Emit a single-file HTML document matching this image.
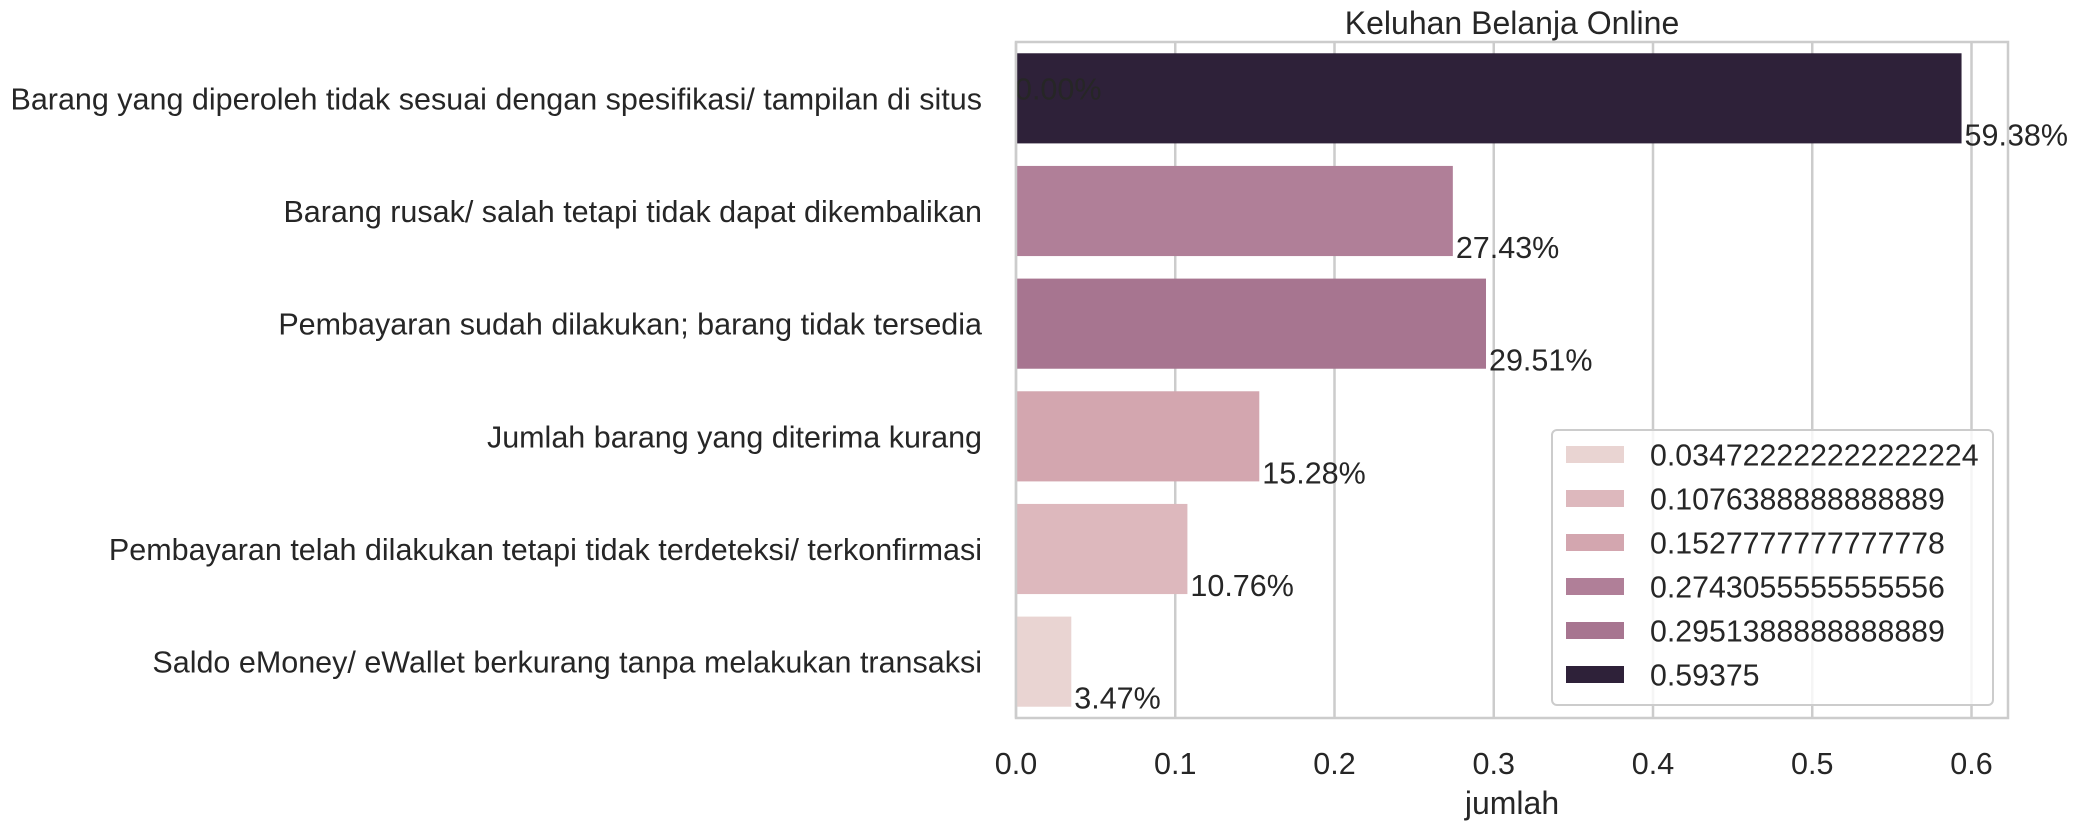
<!DOCTYPE html>
<html><head><meta charset="utf-8"><style>
html,body{margin:0;padding:0;background:#fff;}
svg{display:block;font-family:"Liberation Sans",Arial,sans-serif;}
</style></head><body>
<svg id="chart" width="2088" height="827" viewBox="0 0 2088 827"></svg>
<script>
const categories = [
  "Barang yang diperoleh tidak sesuai dengan spesifikasi/ tampilan di situs",
  "Barang rusak/ salah tetapi tidak dapat dikembalikan",
  "Pembayaran sudah dilakukan; barang tidak tersedia",
  "Jumlah barang yang diterima kurang",
  "Pembayaran telah dilakukan tetapi tidak terdeteksi/ terkonfirmasi",
  "Saldo eMoney/ eWallet berkurang tanpa melakukan transaksi"
];
const values = [0.59375, 0.2743055555555556, 0.2951388888888889, 0.1527777777777778, 0.1076388888888889, 0.034722222222222224];
const valueLabels = ["59.38%", "27.43%", "29.51%", "15.28%", "10.76%", "3.47%"];
const legendLabels = ["0.034722222222222224", "0.1076388888888889", "0.1527777777777778", "0.2743055555555556", "0.2951388888888889", "0.59375"];
const legendValues = [0.034722222222222224, 0.1076388888888889, 0.1527777777777778, 0.2743055555555556, 0.2951388888888889, 0.59375];
const xTicks = [0, 0.1, 0.2, 0.3, 0.4, 0.5, 0.6];
const xTickLabels = ["0.0", "0.1", "0.2", "0.3", "0.4", "0.5", "0.6"];

const NS = "http://www.w3.org/2000/svg";
const svg = document.getElementById("chart");
const L = 1016, R = 2008, T = 42, B = 718;
const pxPerUnit = 1592.5;
const xs = v => L + v * pxPerUnit;
const band = (B - T) / categories.length;
const yc = i => T + band * (i + 0.5);
const barH = band * 0.8;
const palette = ["#e9d4d2", "#ddb8bd", "#d3a6af", "#b07f98", "#a77590", "#2e2139"];
function colorFor(v){ const i = legendValues.indexOf(v); return palette[i >= 0 ? i : 0]; }
function mk(tag, attrs, parent){ const e = document.createElementNS(NS, tag); for (const k in attrs) e.setAttribute(k, attrs[k]); (parent||svg).appendChild(e); return e; }
const FS = 30.5;

xTicks.forEach((t,i)=>{
  const g = mk("line",{x1:xs(t),x2:xs(t),y1:T,y2:B,stroke:"#cccccc","stroke-width":2.5});
  
  
  const tl = mk("text",{x:xs(t),y:774,"font-size":FS,fill:"#262626","text-anchor":"middle"});
  tl.textContent = xTickLabels[i];
  
  
});

values.forEach((v,i)=>{
  const top = yc(i) - barH/2;
  const r = mk("rect",{x:L,y:top,width:xs(v)-L,height:barH,fill:colorFor(v)});
  
  
  const vl = mk("text",{x:xs(v)+3,y:top+barH+2,"font-size":FS,fill:"#262626"});
  vl.textContent = valueLabels[i];
  
  
  const cl = mk("text",{x:982,y:yc(i)+11,"font-size":FS,fill:"#262626","text-anchor":"end"});
  cl.textContent = categories[i];
  
  
});
const zl = mk("text",{x:L-1,y:yc(0)+1,"font-size":FS,fill:"#262626"});
zl.textContent = "0.00%";



const fr = mk("rect",{x:L,y:T,width:R-L,height:B-T,fill:"none",stroke:"#cccccc","stroke-width":2.5});



const ti = mk("text",{x:(L+R)/2,y:34,"font-size":32,fill:"#262626","text-anchor":"middle"});
ti.textContent = "Keluhan Belanja Online";


const xl = mk("text",{x:(L+R)/2,y:814,"font-size":32,fill:"#262626","text-anchor":"middle"});
xl.textContent = "jumlah";



const lg = mk("g",{});


const lb = mk("rect",{x:1552,y:430,width:441,height:275,rx:5,fill:"rgba(255,255,255,0.8)",stroke:"#cccccc","stroke-width":2},lg);


legendLabels.forEach((s,i)=>{
  const cy = 454.5 + i*44;
  const p = mk("rect",{x:1566,y:cy-8.5,width:58,height:17,fill:palette[i]},lg);
  
  
  const t = mk("text",{x:1650,y:cy+11,"font-size":30.3,fill:"#262626"},lg);
  t.textContent = s;
  
  
});
</script>
</body></html>
